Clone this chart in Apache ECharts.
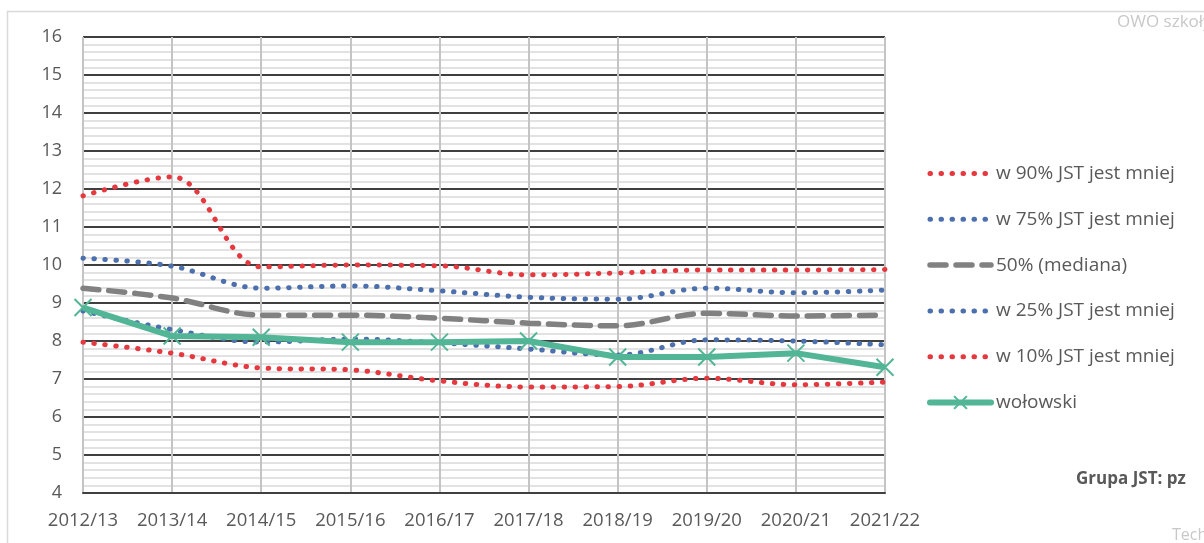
<!DOCTYPE html>
<html><head><meta charset="utf-8">
<script src="https://cdn.jsdelivr.net/npm/echarts@6/dist/echarts.min.js"></script>
<style>html,body{margin:0;padding:0;background:#fff}#c{width:1204px;height:543px}</style>
</head><body><div id="c"></div>
<script>
const categories = ['2012/13','2013/14','2014/15','2015/16','2016/17','2017/18','2018/19','2019/20','2020/21','2021/22'];
const p90 = [11.82, 12.32, 9.95, 10.0, 9.98, 9.74, 9.79, 9.87, 9.87, 9.88];
const p75 = [10.18, 9.97, 9.39, 9.45, 9.32, 9.15, 9.10, 9.39, 9.27, 9.34];
const p50 = [9.39, 9.13, 8.68, 8.68, 8.60, 8.47, 8.40, 8.73, 8.66, 8.68];
const p25 = [8.79, 8.30, 7.97, 8.05, 7.95, 7.79, 7.63, 8.03, 8.00, 7.90];
const p10 = [7.97, 7.68, 7.29, 7.24, 6.95, 6.79, 6.80, 7.02, 6.85, 6.92];
const wolowski = [8.88, 8.13, 8.10, 7.97, 7.97, 8.00, 7.58, 7.58, 7.68, 7.31];
const seriesNames = ['w 90% JST jest mniej','w 75% JST jest mniej','50% (mediana)','w 25% JST jest mniej','w 10% JST jest mniej','wołowski'];

const RED = '#E5383F', BLUE = '#4C6FAE', GRAY = '#818181', GREEN = '#52B696';
const FONT = 'Open Sans';
const dotted = (c) => ({color: c, width: 5, type: [0.5, 10.5], cap: 'round'});
const styles = [dotted(RED), dotted(BLUE), {color: GRAY, width: 5.5, type: [16, 10], cap: 'round'}, dotted(BLUE), dotted(RED), {color: GREEN, width: 6, cap: 'round'}];

const chart = echarts.init(document.getElementById('c'), null, {renderer: 'canvas'});
chart.setOption({
  animation: false,
  backgroundColor: '#fff',
  textStyle: {fontFamily: FONT},
  grid: {left: 83, right: 319, top: 37, bottom: 50, containLabel: false},
  graphic: [
    {type: 'rect', shape: {x: 7.5, y: 11.5, width: 1300, height: 600}, style: {fill: 'none', stroke: '#d9d9d9', lineWidth: 1.5}, z: -10},
    {type: 'text', left: 1117, top: 14, style: {text: 'OWO szkoły', fill: '#c8c8c8', font: '17px "Open Sans"'}},
    {type: 'text', left: 1172, top: 527, style: {text: 'Tech', fill: '#c8c8c8', font: '16px "Open Sans"'}},
    {type: 'text', left: 1076, top: 471, style: {text: 'Grupa JST: pz', fill: '#595959', font: 'bold 17px "Open Sans"'}}
  ],
  legend: {
    orient: 'vertical', left: 922, top: 159, itemWidth: 61, itemHeight: 16, itemGap: 26.8,
    data: seriesNames.map((n, i) => i === 5
      ? {name: n, itemStyle: {opacity: 1}, lineStyle: styles[i]}
      : {name: n, lineStyle: styles[i]}),
    itemStyle: {opacity: 0},
    textStyle: {color: '#595959', fontSize: 19, fontFamily: FONT, padding: [0, 0, 0, 0]}
  },
  xAxis: {
    type: 'category', data: categories, boundaryGap: false,
    axisLine: {show: true, lineStyle: {color: '#404040', width: 2}},
    axisTick: {show: false},
    axisLabel: {color: '#595959', fontSize: 18.5, margin: 18, fontFamily: FONT, interval: 0},
    splitLine: {show: true, lineStyle: {color: '#c4c4c4', width: 2}}
  },
  yAxis: {
    type: 'value', min: 4, max: 16, interval: 1,
    axisLine: {show: false}, axisTick: {show: false},
    axisLabel: {color: '#595959', fontSize: 18, margin: 21, fontFamily: FONT},
    splitLine: {show: true, lineStyle: {color: '#3f3f3f', width: 2}},
    minorTick: {show: false, splitNumber: 5},
    minorSplitLine: {show: true, lineStyle: {color: '#d9d9d9', width: 1.5}}
  },
  series: [
    {name: seriesNames[0], type: 'line', data: p90, smooth: 0.35, symbol: 'none', lineStyle: styles[0], itemStyle: {color: RED}, z: 3},
    {name: seriesNames[1], type: 'line', data: p75, smooth: 0.35, symbol: 'none', lineStyle: styles[1], itemStyle: {color: BLUE}, z: 3},
    {name: seriesNames[2], type: 'line', data: p50, smooth: 0.35, symbol: 'none', lineStyle: styles[2], itemStyle: {color: GRAY}, z: 3},
    {name: seriesNames[3], type: 'line', data: p25, smooth: 0.35, symbol: 'none', lineStyle: styles[3], itemStyle: {color: BLUE}, z: 3},
    {name: seriesNames[4], type: 'line', data: p10, smooth: 0.35, symbol: 'none', lineStyle: styles[4], itemStyle: {color: RED}, z: 3},
    {name: seriesNames[5], type: 'line', data: wolowski, smooth: false,
      symbol: 'path://M0,0L10,10M10,0L0,10', symbolSize: 17, showSymbol: true,
      lineStyle: {color: GREEN, width: 6},
      itemStyle: {color: 'none', borderColor: GREEN, borderWidth: 2}, z: 4}
  ]
});
</script></body></html>
